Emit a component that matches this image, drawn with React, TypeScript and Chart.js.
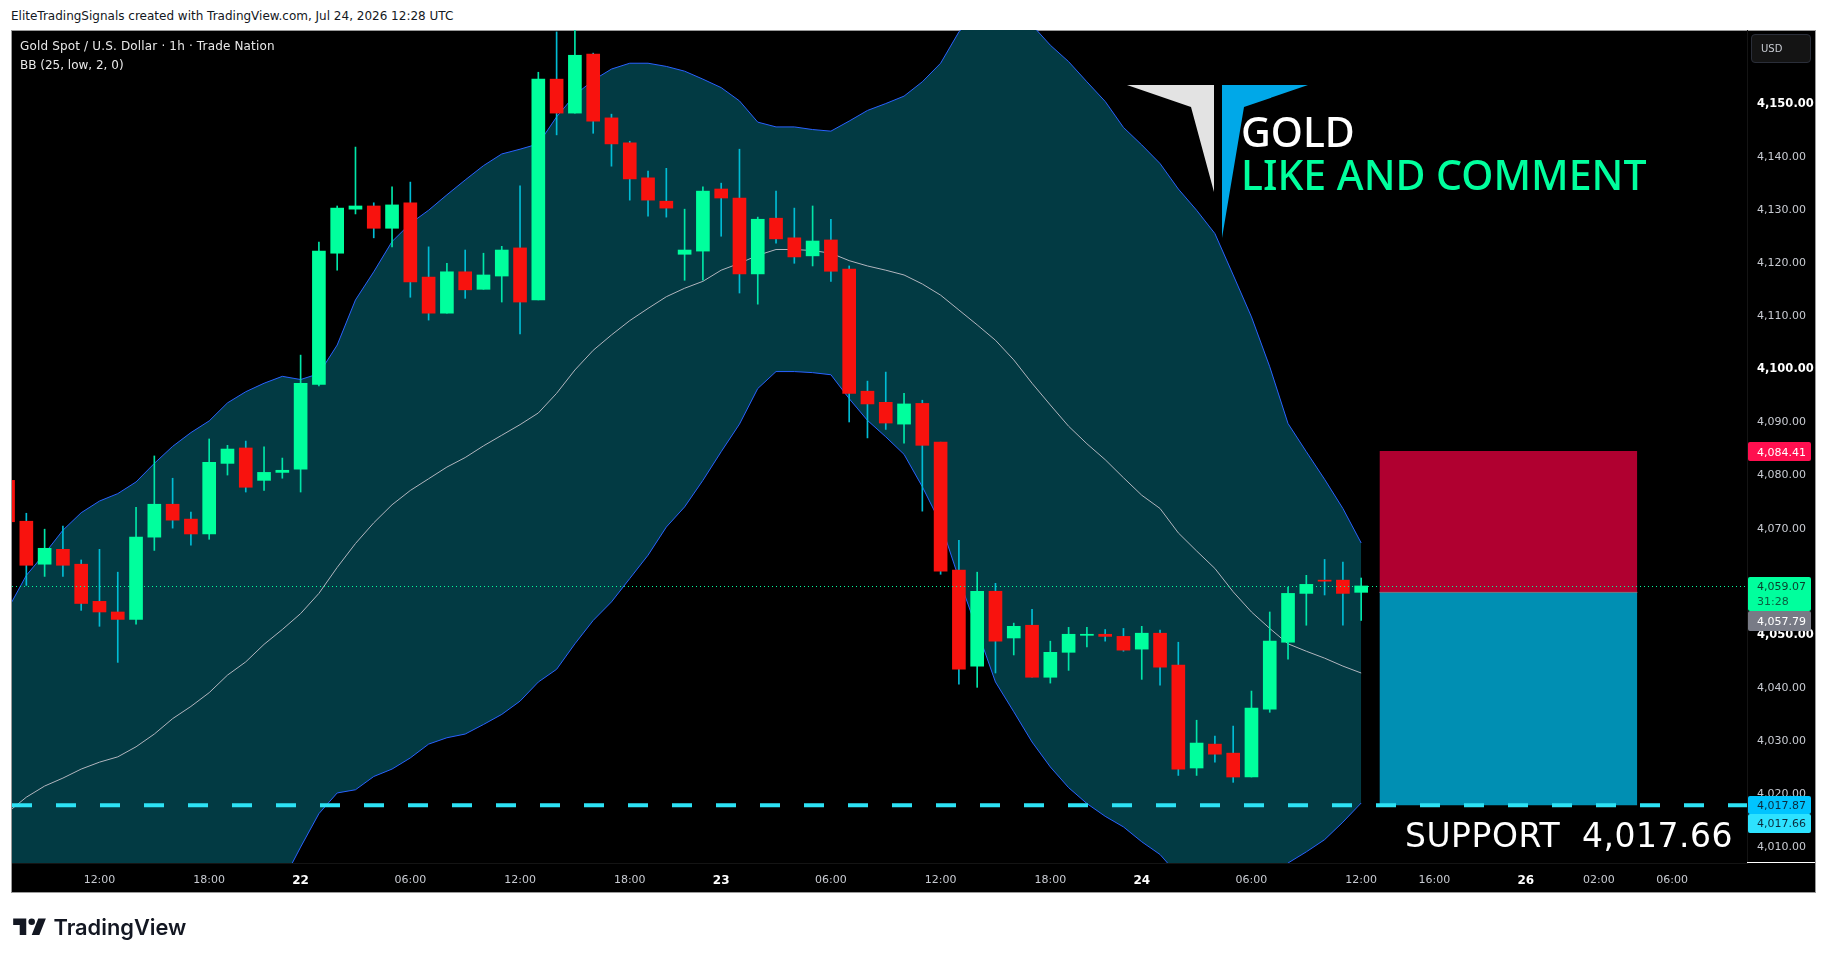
import React, { useEffect, useRef } from "react";
import { Chart, registerables } from "chart.js";

Chart.register(...registerables);

const firstIndex = -1;
const opens = [4078.9,4071.2,4063.1,4065.9,4063.1,4056.1,4054.1,4052.7,4068.2,4074.4,4071.6,4068.8,4082.1,4085.0,4078.9,4080.4,4081.0,4097.0,4121.7,4130.0,4130.6,4126.4,4131.2,4117.2,4110.4,4118.2,4114.9,4117.4,4122.7,4112.9,4154.5,4148.1,4159.2,4147.2,4142.5,4135.9,4131.5,4121.5,4122.1,4133.8,4132.1,4117.8,4128.3,4124.6,4121.2,4124.2,4118.7,4095.7,4093.6,4089.5,4093.4,4086.1,4062.0,4043.9,4058.0,4049.2,4051.6,4041.8,4046.5,4049.7,4049.9,4049.5,4047.1,4050.1,4044.1,4024.7,4029.2,4027.5,4023.0,4035.8,4048.4,4057.6,4060.1,4060.1,4057.8];
const highs = [4080.0,4072.7,4069.7,4070.3,4063.9,4065.9,4061.6,4073.8,4083.5,4079.3,4072.9,4086.7,4085.5,4086.3,4085.2,4083.1,4102.5,4123.8,4130.6,4141.7,4131.2,4134.2,4135.1,4122.9,4119.8,4122.3,4121.7,4123.0,4134.4,4155.8,4163.4,4165.6,4159.4,4147.9,4142.8,4137.2,4137.7,4130.0,4134.2,4134.9,4141.3,4128.5,4133.4,4130.2,4130.6,4128.1,4119.3,4097.6,4099.3,4095.3,4094.0,4086.1,4067.6,4061.6,4059.5,4052.0,4054.6,4048.6,4051.2,4051.2,4050.8,4051.0,4051.4,4050.7,4048.4,4033.7,4030.7,4032.6,4039.2,4054.1,4058.8,4061.0,4064.0,4063.5,4060.5];
const lows = [4070.5,4059.1,4060.8,4060.8,4054.4,4051.4,4044.6,4051.8,4065.7,4069.9,4066.7,4067.8,4079.9,4076.7,4077.0,4079.3,4076.7,4096.7,4118.5,4129.1,4124.6,4122.9,4113.4,4109.1,4110.4,4113.2,4114.9,4112.5,4106.5,4112.9,4144.0,4148.1,4144.3,4138.1,4131.7,4128.7,4128.5,4116.6,4116.6,4124.9,4114.2,4112.1,4123.6,4119.8,4119.3,4116.4,4089.9,4086.9,4088.5,4085.9,4073.1,4061.2,4040.5,4039.9,4042.6,4046.0,4041.8,4040.7,4043.1,4047.5,4048.6,4046.7,4041.4,4040.3,4023.3,4023.3,4025.8,4022.0,4023.0,4035.2,4045.2,4051.6,4057.3,4051.6,4052.5];
const closes = [4071.1,4062.9,4066.1,4062.9,4055.7,4054.1,4052.7,4068.2,4074.4,4071.4,4068.8,4082.3,4084.8,4077.6,4080.4,4080.8,4097.2,4122.1,4130.2,4130.6,4126.4,4130.8,4116.3,4110.4,4118.2,4114.8,4117.6,4122.3,4112.5,4154.5,4148.1,4159.0,4146.6,4142.3,4135.7,4131.7,4130.2,4122.3,4133.4,4132.1,4117.8,4128.1,4124.4,4121.0,4124.0,4118.3,4095.3,4093.3,4089.7,4093.3,4085.5,4061.8,4043.3,4058.0,4048.6,4051.4,4041.8,4046.5,4049.9,4049.9,4049.5,4046.9,4050.1,4043.7,4024.5,4029.4,4027.3,4023.0,4036.0,4048.6,4057.6,4059.3,4059.9,4057.6,4059.0];

const bbUpper = [4054.7,4061.0,4065.1,4069.5,4072.8,4075.0,4076.4,4078.6,4082.1,4085.3,4087.9,4090.1,4093.5,4095.6,4097.2,4098.5,4097.9,4099.0,4104.4,4112.9,4118.2,4123.9,4127.3,4129.8,4132.7,4135.5,4138.2,4140.4,4141.3,4142.3,4147.4,4151.5,4154.3,4156.4,4157.5,4157.5,4156.9,4156.0,4154.5,4152.9,4150.4,4146.4,4145.5,4145.5,4145.0,4144.7,4146.6,4148.6,4149.9,4151.3,4154.0,4157.5,4163.4,4166.9,4169.7,4167.8,4164.7,4160.9,4157.8,4154.0,4150.3,4145.4,4142.1,4138.6,4133.8,4129.8,4125.4,4117.6,4109.7,4100.3,4089.6,4084.3,4079.1,4073.6,4067.1];
const bbBasis = [4016.4,4019.2,4021.3,4022.8,4024.5,4025.8,4026.8,4028.7,4031.1,4034.0,4036.3,4038.9,4042.2,4044.7,4048.0,4050.8,4053.8,4057.6,4062.5,4067.0,4070.9,4074.3,4077.0,4079.2,4081.4,4083.2,4085.4,4087.4,4089.4,4091.6,4095.3,4099.7,4103.4,4106.3,4109.0,4111.3,4113.5,4115.1,4116.4,4118.5,4119.8,4121.3,4122.4,4122.4,4122.2,4121.7,4120.3,4119.3,4118.5,4117.6,4115.9,4113.8,4111.0,4108.2,4105.3,4101.6,4097.2,4093.1,4089.1,4085.8,4082.8,4079.4,4076.1,4073.6,4069.0,4065.6,4062.3,4057.9,4054.1,4051.0,4048.1,4046.7,4045.4,4043.9,4042.6];
const bbLower = [3978.1,3977.5,3977.4,3976.1,3976.3,3976.6,3977.1,3978.7,3980.0,3982.7,3984.8,3987.8,3990.8,3993.8,3998.8,4003.2,4009.8,4016.1,4020.0,4020.6,4023.1,4024.5,4026.6,4029.2,4030.4,4031.1,4032.9,4034.8,4037.3,4040.9,4043.3,4048.1,4052.5,4056.0,4060.4,4064.8,4070.1,4073.9,4078.9,4084.3,4089.5,4096.2,4099.4,4099.4,4099.2,4098.8,4094.3,4090.2,4087.1,4083.8,4077.7,4070.8,4060.4,4050.7,4040.9,4035.3,4029.6,4024.9,4021.0,4018.0,4015.6,4013.6,4010.8,4008.4,4004.5,4001.4,3999.1,3998.2,3998.5,4001.6,4006.8,4008.9,4011.2,4014.5,4018.1];

const timeTickPositions = [4,10,15,21,27,33,38,44,50,56,61,67,73,77,82,86,90];
const timeTickLabels = ["12:00","18:00","22","06:00","12:00","18:00","23","06:00","12:00","18:00","24","06:00","12:00","16:00","26","02:00","06:00"];
const boldTimeLabels = ["22","23","24","26"];
const priceTicks = [4010,4020,4030,4040,4050,4060,4070,4080,4090,4100,4110,4120,4130,4140,4150];
const boldPriceTicks = [4050,4100,4150];

const xMin = -0.784;
const xMax = 94.1;
const yMin = 4006.8;
const yMax = 4163.76;
const lastPrice = 4058.9;
const supportLine = 4017.66;
const boxStart = 74;
const boxEnd = 88.1;
const boxTop = 4084.41;
const boxMid = 4057.79;
const boxBottom = 4017.66;
const tickTextNudge = 0.2;

const UP = "#00ff9d";
const DOWN = "#f8120e";
const UP_WICK = "#00e6a8";
const DOWN_WICK = "#00bcd4";
const MONO = "'DejaVu Sans', sans-serif";

type LabelProps = { x: number; cy: number; size?: number; color?: string; font?: string; weight?: number; spacing?: number; children: React.ReactNode };
function Label({ x, cy, size = 11, color = "#d8d8d8", font = MONO, weight = 400, spacing = 0, children }: LabelProps) {
  const lh = Math.round(size * 1.4);
  return (
    <div style={{ position: "absolute", left: x, top: cy - lh / 2, lineHeight: `${lh}px`, fontSize: size, color, fontFamily: font, fontWeight: weight, letterSpacing: spacing, whiteSpace: "pre" }}>
      {children}
    </div>
  );
}

function Box({ x, y, w, h, bg, r = 0, border }: { x: number; y: number; w: number; h: number; bg: string; r?: number; border?: string }) {
  return <div style={{ position: "absolute", left: x, top: y, width: w, height: h, background: bg, borderRadius: r, border, boxSizing: "border-box" }} />;
}

export default function App() {
  const ref = useRef<HTMLCanvasElement>(null);
  useEffect(() => {
    document.body.style.margin = "0";
    document.body.style.background = "#fff";
    const idx = opens.map((_, i) => i + firstIndex);
    const line = (arr: number[]) => arr.map((y, i) => ({ x: idx[i], y }));
    const isUp = opens.map((o, i) => closes[i] >= o);
    const timeBold = (c: any) => boldTimeLabels.includes(timeTickLabels[c.index ?? -1]);
    const priceBold = (c: any) => boldPriceTicks.includes(priceTicks[c.index ?? -1]);
    const chart = new Chart(ref.current as HTMLCanvasElement, {
      type: "bar",
      data: {
        datasets: [
          { type: "line", data: line(bbLower), borderColor: "#2962ff", borderWidth: 1, pointRadius: 0, tension: 0, fill: false, order: 10 },
          { type: "line", data: line(bbBasis), borderColor: "#b2b5be", borderWidth: 1, pointRadius: 0, tension: 0, fill: false, order: 9 },
          { type: "line", data: line(bbUpper), borderColor: "#2962ff", borderWidth: 1, pointRadius: 0, tension: 0, fill: 0, backgroundColor: "#023a43", order: 11 },
          { type: "line", data: [{ x: boxStart, y: boxTop }, { x: boxEnd, y: boxTop }], borderWidth: 0, pointRadius: 0, fill: { value: boxMid }, backgroundColor: "#b00030", order: 8 },
          { type: "line", data: [{ x: boxStart, y: boxMid }, { x: boxEnd, y: boxMid }], borderColor: "#787b86", borderWidth: 1, pointRadius: 0, fill: { value: boxBottom }, backgroundColor: "#008fb3", order: 7 },
          { type: "bar", data: line(lows).map((p, i) => ({ x: p.x, y: [lows[i], highs[i]] })), backgroundColor: isUp.map((u) => (u ? UP_WICK : DOWN_WICK)), barThickness: 1, grouped: false, order: 5 },
          { type: "bar", data: line(opens).map((p, i) => ({ x: p.x, y: [opens[i], closes[i]] })), backgroundColor: isUp.map((u) => (u ? UP : DOWN)), barThickness: 13, minBarLength: 1, grouped: false, order: 4 },
          { type: "line", data: [{ x: xMin, y: lastPrice }, { x: xMax, y: lastPrice }], borderColor: UP, borderWidth: 1, borderDash: [1, 3], pointRadius: 0, fill: false, order: 3 },
          { type: "line", data: [{ x: xMin, y: supportLine }, { x: xMax, y: supportLine }], borderColor: "#2de2f5", borderWidth: 4, borderDash: [20, 24], pointRadius: 0, fill: false, order: 2 },
        ] as any,
      },
      options: {
        animation: false,
        responsive: false,
        devicePixelRatio: 1,
        events: [],
        layout: { padding: { left: 12, top: 30, right: 11, bottom: 67 } },
        plugins: { legend: { display: false }, tooltip: { enabled: false }, title: { display: false } },
        scales: {
          x: {
            type: "linear",
            min: xMin,
            max: xMax,
            offset: false,
            grid: { display: false, drawTicks: false },
            border: { color: "#141414" },
            afterFit: (s: any) => { s.height = 29; },
            afterBuildTicks: (s: any) => { s.ticks = timeTickPositions.map((value) => ({ value })); },
            ticks: {
              autoSkip: false,
              maxRotation: 0,
              padding: 11,
              color: (c: any) => (timeBold(c) ? "#ffffff" : "#c8cbd2"),
              font: (c: any) => ({ family: MONO, size: timeBold(c) ? 12 : 11, weight: timeBold(c) ? "bold" : "normal" }),
              callback: (_v: any, i: number) => timeTickLabels[i],
            },
          },
          y: {
            type: "linear",
            position: "right",
            min: yMin,
            max: yMax,
            grid: { display: false, drawTicks: false },
            border: { color: "#141414" },
            afterFit: (s: any) => { s.width = 68; },
            afterBuildTicks: (s: any) => { s.ticks = priceTicks.map((value) => ({ value: value - tickTextNudge })); },
            ticks: {
              autoSkip: false,
              padding: 10,
              color: (c: any) => (priceBold(c) ? "#ffffff" : "#c8cbd2"),
              font: (c: any) => ({ family: MONO, size: priceBold(c) ? 11.5 : 11, weight: priceBold(c) ? "bold" : "normal" }),
              callback: (_v: any, i: number) => priceTicks[i].toLocaleString("en-US", { minimumFractionDigits: 2 }),
            },
          },
        },
      } as any,
    });
    return () => chart.destroy();
  }, []);

  return (
    <div style={{ position: "absolute", left: 0, top: 0, width: 1826, height: 959, background: "#fff", overflow: "hidden" }}>
      <Label x={11} cy={16.5} size={12} color="#131722">EliteTradingSignals created with TradingView.com, Jul 24, 2026 12:28 UTC</Label>
      <Box x={11} y={30} w={1805} h={863} bg="#000" border="1px solid #9a9a9a" />
      <canvas ref={ref} width={1826} height={959} style={{ position: "absolute", left: 0, top: 0, width: 1826, height: 959, display: "block" }} />

      <Label x={20} cy={46.5} size={12} spacing={0.16} color="#e8e8e8">Gold Spot / U.S. Dollar · 1h · Trade Nation</Label>
      <Label x={20} cy={65.5} size={12} color="#e8e8e8">BB (25, low, 2, 0)</Label>

      <svg width={1826} height={959} style={{ position: "absolute", left: 0, top: 0, pointerEvents: "none" }}>
        <polygon points="1127,85 1214,85 1214,192 1191,107" fill="#e3e3e3" />
        <polygon points="1222,85 1308,85 1244,107 1222,238" fill="#00a8e8" />
        <g transform="translate(11,912) scale(1.09)" fill="#131722">
          <path d="M14 6H2v6h6v9h6V6Zm12 15h-7l6-15h7l-6 15Zm-7-9a3 3 0 1 0 0-6 3 3 0 0 0 0 6Z" />
        </g>
      </svg>

      <Label x={1241} cy={131} size={41} color="#ffffff" font="'Noto Sans', sans-serif" weight={500}>GOLD</Label>
      <Label x={1241} cy={174} size={41} color={UP} font="'Noto Sans', sans-serif" weight={500}>LIKE AND COMMENT</Label>
      <Label x={1405} cy={836} size={33} spacing={0.5} color="#ffffff" font="'DejaVu Sans', sans-serif">SUPPORT  4,017.66</Label>
      <Label x={53.5} cy={927} size={21.8} color="#131722" font="Inter, sans-serif" weight={600}>TradingView</Label>

      <Box x={1751} y={34} w={60} h={29} bg="#141414" r={4} border="1px solid #2a2e39" />
      <Label x={1761} cy={49} size={10} color="#c8cbd2">USD</Label>

      <Box x={1747} y={862} w={68} h={1} bg="#ffffff" />
      <Box x={1748} y={442} w={63} h={19} bg="#ff0f4f" r={2} />
      <Label x={1757} cy={452} color="#ffffff">4,084.41</Label>
      <Box x={1748} y={577} w={63} h={34} bg={UP} r={2} />
      <Label x={1757} cy={586.5} color="#0b3d2c">4,059.07</Label>
      <Label x={1757} cy={601.5} color="#0b5d40">31:28</Label>
      <Box x={1748} y={611} w={63} h={20} bg="#787b86" r={2} />
      <Label x={1757} cy={621} color="#ffffff">4,057.79</Label>
      <Box x={1748} y={796} w={63} h={18} bg="#00c4ff" r={2} />
      <Label x={1757} cy={805} color="#0b2b3d">4,017.87</Label>
      <Box x={1748} y={814} w={63} h={19} bg="#2de2ff" r={2} />
      <Label x={1757} cy={823.5} color="#0b2b3d">4,017.66</Label>
    </div>
  );
}
